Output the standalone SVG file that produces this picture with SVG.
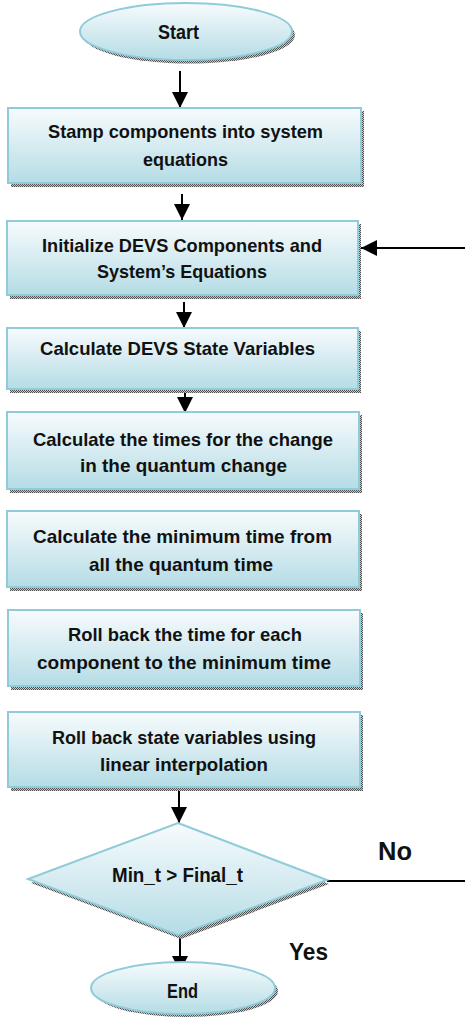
<svg xmlns="http://www.w3.org/2000/svg" width="465" height="1029" viewBox="0 0 465 1029">
<defs>
<linearGradient id="fill" x1="0" y1="0" x2="0" y2="1">
<stop offset="0" stop-color="#f7fbfd"/>
<stop offset="1" stop-color="#b5dce5"/>
</linearGradient>
<pattern id="dots" width="2" height="2" patternUnits="userSpaceOnUse">
<rect width="2" height="2" fill="#c8c8c8"/>
<rect width="1" height="1" fill="#505050"/>
<rect x="1" y="1" width="1" height="1" fill="#505050"/>
</pattern>
<marker id="arr" markerUnits="userSpaceOnUse" markerWidth="16" markerHeight="16" viewBox="0 0 16 16" refX="16" refY="8" orient="auto">
<path d="M0,0 L16,8 L0,16 z" fill="#000"/>
</marker>
<style>
.box{fill:url(#fill);stroke:#8fcbd8;stroke-width:2}
.sh{fill:url(#dots)}
.t{font-family:"Liberation Sans",Arial,sans-serif;font-weight:bold;font-size:19px;fill:#111;text-anchor:middle}
.m{font-size:20px}
.no{font-size:26px}
.yes{font-size:24px}
.ln{stroke:#000;stroke-width:2;fill:none}
</style>
</defs>

<g id="connectors">
<line class="ln" x1="180" y1="71" x2="180" y2="108" marker-end="url(#arr)"/>
<line class="ln" x1="182" y1="194" x2="182" y2="220" marker-end="url(#arr)"/>
<line class="ln" x1="184" y1="302" x2="184" y2="328" marker-end="url(#arr)"/>
<line class="ln" x1="185" y1="380" x2="185" y2="413" marker-end="url(#arr)"/>
<line class="ln" x1="179" y1="784" x2="179" y2="823" marker-end="url(#arr)"/>
<line class="ln" x1="180" y1="936" x2="180" y2="972" marker-end="url(#arr)"/>
<line class="ln" x1="327" y1="881" x2="465" y2="881"/>
<line class="ln" x1="465" y1="248" x2="361" y2="248" marker-end="url(#arr)"/>
</g>

<g id="start">
<ellipse class="sh" cx="189" cy="35" rx="106" ry="28.5"/>
<ellipse class="box" cx="186" cy="31.5" rx="106" ry="28.5"/>
<text class="t m" x="178.5" y="39" textLength="41" lengthAdjust="spacingAndGlyphs">Start</text>
</g>

<g id="stamp">
<rect class="sh" x="11" y="111" width="353" height="76"/>
<rect class="box" x="8" y="108" width="353" height="75"/>
<text class="t" x="185.5" y="138" textLength="275" lengthAdjust="spacingAndGlyphs">Stamp components into system</text>
<text class="t" x="185.5" y="166" textLength="85" lengthAdjust="spacingAndGlyphs">equations</text>
</g>

<g id="init">
<rect class="sh" x="10" y="224" width="351" height="75"/>
<rect class="box" x="7" y="221" width="351" height="74"/>
<text class="t" x="182" y="252" textLength="280" lengthAdjust="spacingAndGlyphs">Initialize DEVS Components and</text>
<text class="t" x="182" y="278" textLength="170" lengthAdjust="spacingAndGlyphs">System’s Equations</text>
</g>

<g id="calcstate">
<rect class="sh" x="10" y="331" width="351" height="62"/>
<rect class="box" x="7" y="328" width="351" height="61"/>
<text class="t" x="177.5" y="355" textLength="275" lengthAdjust="spacingAndGlyphs">Calculate DEVS State Variables</text>
</g>

<g id="calctimes">
<rect class="sh" x="10" y="415" width="352" height="78"/>
<rect class="box" x="7" y="412" width="352" height="77"/>
<text class="t" x="183" y="446" textLength="300" lengthAdjust="spacingAndGlyphs">Calculate the times for the change</text>
<text class="t" x="183.5" y="472" textLength="207" lengthAdjust="spacingAndGlyphs">in the quantum change</text>
</g>

<g id="calcmin">
<rect class="sh" x="10" y="514" width="352" height="77"/>
<rect class="box" x="7" y="511" width="352" height="76"/>
<text class="t" x="182.5" y="543" textLength="299" lengthAdjust="spacingAndGlyphs">Calculate the minimum time from</text>
<text class="t" x="181" y="571" textLength="184" lengthAdjust="spacingAndGlyphs">all the quantum time</text>
</g>

<g id="rollbacktime">
<rect class="sh" x="11" y="613" width="352" height="77"/>
<rect class="box" x="8" y="610" width="352" height="76"/>
<text class="t" x="185" y="641" textLength="234" lengthAdjust="spacingAndGlyphs">Roll back the time for each</text>
<text class="t" x="184" y="669" textLength="294" lengthAdjust="spacingAndGlyphs">component to the minimum time</text>
</g>

<g id="rollbackstate">
<rect class="sh" x="11" y="715" width="352" height="76"/>
<rect class="box" x="8" y="712" width="352" height="75"/>
<text class="t" x="184" y="744" textLength="264" lengthAdjust="spacingAndGlyphs">Roll back state variables using</text>
<text class="t" x="184" y="771" textLength="168" lengthAdjust="spacingAndGlyphs">linear interpolation</text>
</g>

<g id="decision">
<polygon class="sh" points="181,826 329,884 181,939 31,883"/>
<polygon class="box" points="178,823 327,880 178,935 28,879"/>
<text class="t m" x="177.5" y="882" textLength="131" lengthAdjust="spacingAndGlyphs">Min_t &gt; Final_t</text>
</g>

<g id="end">
<ellipse class="sh" cx="186" cy="991" rx="92" ry="26"/>
<ellipse class="box" cx="183" cy="988" rx="92" ry="26"/>
<text class="t m" x="182.5" y="998" textLength="31" lengthAdjust="spacingAndGlyphs">End</text>
</g>

<g id="labels">
<text class="t no" x="395" y="860" textLength="34" lengthAdjust="spacingAndGlyphs">No</text>
<text class="t yes" x="308.5" y="960" textLength="39" lengthAdjust="spacingAndGlyphs">Yes</text>
</g>
</svg>
